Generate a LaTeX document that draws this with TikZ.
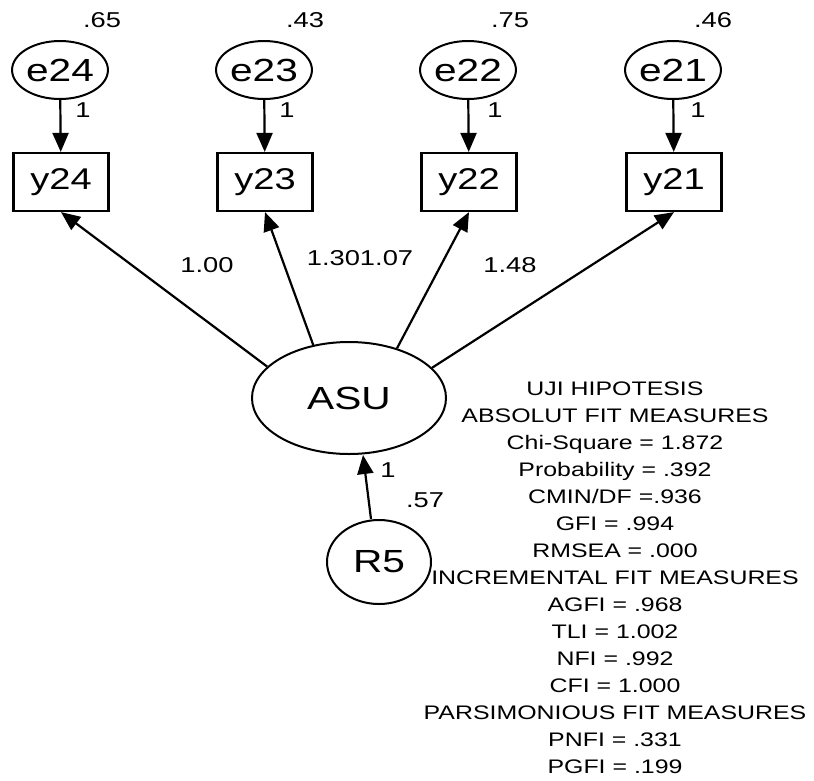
\documentclass[tikz,border=0pt]{standalone}
\usepackage{fontspec}
\setmainfont[FakeStretch=1.27]{Liberation Sans}
\usetikzlibrary{arrows.meta,shapes.geometric}
\begin{document}
\begin{tikzpicture}[x=1pt,y=-1pt,
  every node/.style={inner sep=0pt},
  latent/.style={draw,ellipse,line width=2pt},
  errv/.style={latent,minimum width=70pt,minimum height=58pt,font=\fontsize{32}{34}\selectfont},
  obs/.style={draw,rectangle,line width=2.2pt,minimum width=95pt,minimum height=58pt,font=\fontsize{30}{32}\selectfont},
  lbl/.style={font=\fontsize{21.5}{23}\selectfont},
  sempath/.style={line width=2.2pt,-{Triangle[length=19pt,width=16pt]}}
]
\useasboundingbox (0,0) rectangle (814,780);
% error terms
\node[errv] (e24) at (60,70) {e24};
\node[errv] (e23) at (264,70) {e23};
\node[errv] (e22) at (468,70) {e22};
\node[errv] (e21) at (673,70) {e21};
% observed
\node[obs] (y24) at (61,182) {y24};
\node[obs] (y23) at (265,182) {y23};
\node[obs] (y22) at (469,182) {y22};
\node[obs] (y21) at (674,182) {y21};
% latent
\node[latent,minimum width=194pt,minimum height=112pt,font=\fontsize{32}{34}\selectfont] (ASU) at (349,398) {ASU};
\node[latent,minimum width=104pt,minimum height=84pt,font=\fontsize{32}{34}\selectfont] (R5) at (379,562) {R5};
% paths
\draw[sempath] (e24) -- (y24);
\draw[sempath] (e23) -- (y23);
\draw[sempath] (e22) -- (y22);
\draw[sempath] (e21) -- (y21);
\draw[sempath] (ASU.159) -- (y24.south);
\draw[sempath] (ASU.124) -- (y23.south);
\draw[sempath] (ASU.46) -- (y22.south);
\draw[sempath] (ASU.20) -- (y21.south);
\draw[sempath] ([xshift=-8pt]R5.north) -- ([xshift=14pt]ASU.south);
% labels
\node[lbl] (v24) at (102,20) {.65};
\node[lbl] (v23) at (305,20) {.43};
\node[lbl] (v22) at (510,20) {.75};
\node[lbl] (v21) at (713,20) {.46};
\node[lbl] (f24) at (83,110) {1};
\node[lbl] (f23) at (287,110) {1};
\node[lbl] (f22) at (495,110) {1};
\node[lbl] (f21) at (698,110) {1};
\node[lbl] (l24) at (207,265) {1.00};
\node[lbl] (l2322) at (360,258) {1.301.07};
\node[lbl] (l21) at (510,265) {1.48};
\node[lbl] (fr) at (388,470) {1};
\node[lbl] (vr) at (425,500) {.57};
% fit block
\node[align=center,font=\fontsize{19.6}{27}\selectfont] (fit) at (615,578) {UJI HIPOTESIS\\ABSOLUT FIT MEASURES\\Chi-Square = 1.872\\Probability = .392\\CMIN/DF =.936\\GFI = .994\\RMSEA = .000\\INCREMENTAL FIT MEASURES\\AGFI = .968\\TLI = 1.002\\NFI = .992\\CFI = 1.000\\PARSIMONIOUS FIT MEASURES\\PNFI = .331\\PGFI = .199};
\end{tikzpicture}
\end{document}
